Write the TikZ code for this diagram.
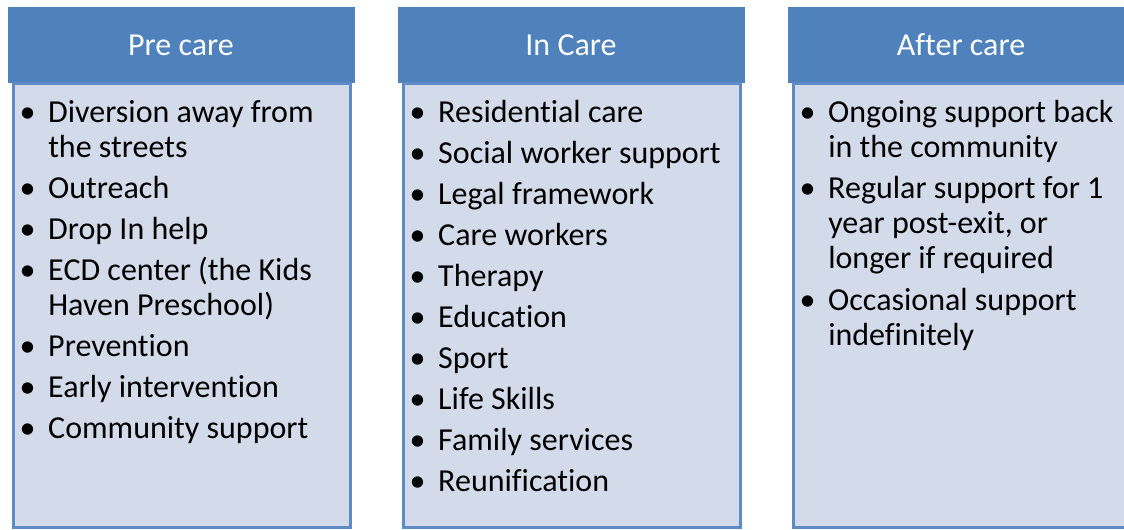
\documentclass[tikz,border=0pt]{standalone}
\usepackage{fontspec}
\setmainfont{Carlito}[Ligatures={NoCommon}]
\definecolor{headblue}{RGB}{79,129,189}
\definecolor{panelfill}{RGB}{211,218,234}
\definecolor{panelline}{RGB}{94,139,198}
\tikzset{
  head/.style={fill=headblue, draw=headblue, line width=0.5pt},
  panel/.style={fill=panelfill, draw=panelline, line width=2.25pt},
  title/.style={text=white, font=\fontsize{24pt}{26pt}\selectfont, inner sep=0pt},
  entry/.style={anchor=base west, align=left, inner sep=0pt,
    font=\fontsize{24pt}{26.25pt}\selectfont},
}
\newcommand{\bul}{\llap{\textbullet\hspace{9.5pt}}}
\begin{document}
\begin{tikzpicture}[x=0.75pt, y=-0.75pt]
  \useasboundingbox (0,0) rectangle (1124,529);
  \clip (0,0) rectangle (1124,529);
  % column boxes
  \draw[head] (8,7) rectangle (354,82);
  \draw[panel] (13.5,83.5) rectangle (350.5,527.5);
  \draw[head] (398,7) rectangle (744,82);
  \draw[panel] (403.5,83.5) rectangle (740.5,527.5);
  \draw[head] (788,7) rectangle (1134,82);
  \draw[panel] (793.5,83.5) rectangle (1130.5,527.5);
  % headings
  \node[title] (pre) at (181,45) {Pre care};
  \node[title] (in) at (571,45) {In Care};
  \node[title] (after) at (961,45) {After care};
  % pre care (multi-line entries sit on their last line)
  \node[entry] (p1) at (48,157) {\bul Diversion away from\\the streets};
  \node[entry] (p2) at (48,198) {\bul Outreach};
  \node[entry] (p3) at (48,239) {\bul Drop In help};
  \node[entry] (p4) at (48,315) {\bul ECD center (the Kids\\Haven Preschool)};
  \node[entry] (p5) at (48,356) {\bul Prevention};
  \node[entry] (p6) at (48,397) {\bul Early intervention};
  \node[entry] (p7) at (48,438) {\bul Community support};
  % in care
  \node[entry] (i1) at (438,122) {\bul Residential care};
  \node[entry] (i2) at (438,163) {\bul Social worker support};
  \node[entry] (i3) at (438,204) {\bul Legal framework};
  \node[entry] (i4) at (438,245) {\bul Care workers};
  \node[entry] (i5) at (438,286) {\bul Therapy};
  \node[entry] (i6) at (438,327) {\bul Education};
  \node[entry] (i7) at (438,368) {\bul Sport};
  \node[entry] (i8) at (438,409) {\bul Life Skills};
  \node[entry] (i9) at (438,450) {\bul Family services};
  \node[entry] (i10) at (438,491) {\bul Reunification};
  % after care
  \node[entry] (a1) at (828,157) {\bul Ongoing support back\\in the community};
  \node[entry] (a2) at (828,268) {\bul Regular support for 1\\year post-exit, or\\longer if required};
  \node[entry] (a3) at (828,345) {\bul Occasional support\\indefinitely};
\end{tikzpicture}
\end{document}
